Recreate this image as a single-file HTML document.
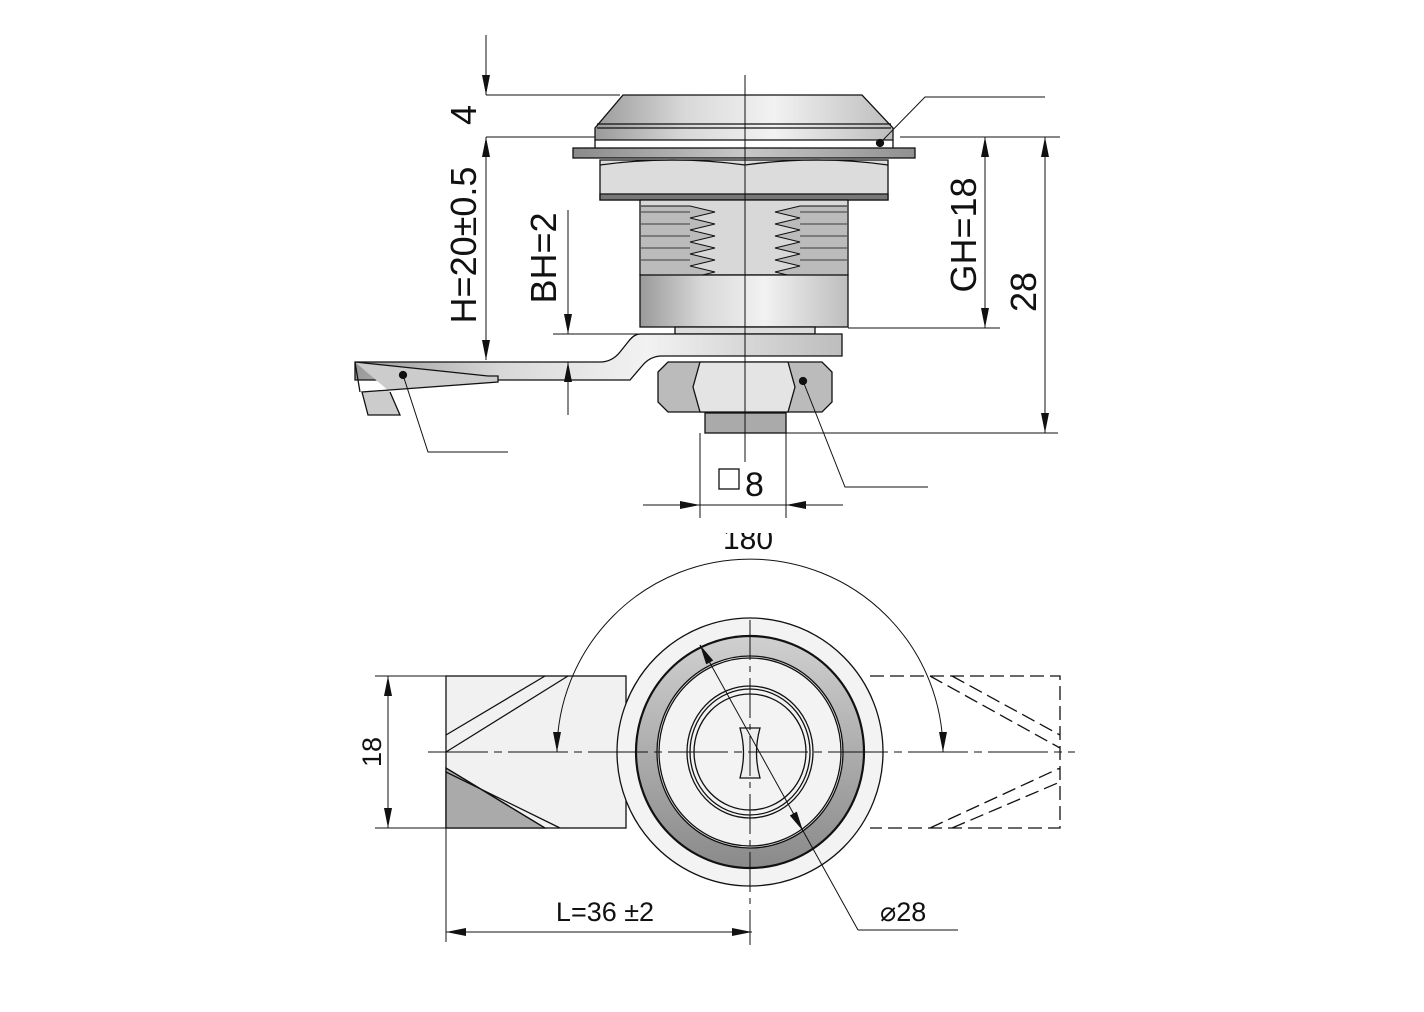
<!DOCTYPE html>
<html><head><meta charset="utf-8"><style>
html,body{margin:0;padding:0;background:#fff}
svg{display:block}
text{font-family:"Liberation Sans",sans-serif;fill:#111}
</style></head><body>
<svg width="1424" height="1012" viewBox="0 0 1424 1012" xmlns="http://www.w3.org/2000/svg">
<defs>
<linearGradient id="g1" x1="0" x2="1" y1="0" y2="0">
<stop offset="0" stop-color="#9a9a9a"/><stop offset="0.3" stop-color="#d8d8d8"/><stop offset="0.6" stop-color="#f2f2f2"/><stop offset="1" stop-color="#bdbdbd"/></linearGradient>
<linearGradient id="g2" x1="0" x2="1"><stop offset="0" stop-color="#8a8a8a"/><stop offset="0.5" stop-color="#c8c8c8"/><stop offset="1" stop-color="#909090"/></linearGradient>
<linearGradient id="g3" x1="0" x2="0" y1="0" y2="1"><stop offset="0" stop-color="#d0d0d0"/><stop offset="1" stop-color="#8a8a8a"/></linearGradient>
<marker id="ar" viewBox="0 0 10 10" refX="10" refY="5" markerWidth="20" markerHeight="8" preserveAspectRatio="none" markerUnits="userSpaceOnUse" orient="auto-start-reverse"><path d="M0,0 L10,5 L0,10 z" fill="#111"/></marker>
</defs>
<g stroke="#111" stroke-width="1.3" fill="none">
<path d="M623,95 L862,95 L893,128 L893,140 L595,140 L595,128 Z" fill="url(#g1)"/>
<line x1="597" y1="124" x2="891" y2="124"/><line x1="597" y1="128" x2="891" y2="128"/>
<rect x="573" y="148" width="342" height="10" fill="url(#g2)"/>
<line x1="595" y1="140" x2="595" y2="148"/><line x1="893" y1="140" x2="893" y2="148"/>
<path d="M600,160 L888,160 L888,200 L600,200 Z" fill="#dcdcdc"/>
<path d="M600,165 Q672,155 745,165 Q818,155 888,165" /><path d="M600,194 Q672,204 745,194 Q818,204 888,194"/>
<path d="M600,194 L888,194 L888,200 L600,200Z" fill="#777"/>
<rect x="640" y="200" width="208" height="75" fill="#d8d8d8"/>
<g stroke-width="1.1">
<path d="M641,206 H690 l25,6 l-25,6 l25,6 l-25,6 l25,6 l-25,6 l25,6 l-25,6 l25,6 l-25,6 l25,6 l-25,6 H641" fill="#bbb"/>
<path d="M847,206 H800 l-25,6 l25,6 l-25,6 l25,6 l-25,6 l25,6 l-25,6 l25,6 l-25,6 l25,6 l-25,6 l25,6 H847" fill="#bbb"/>
<g stroke-width="0.8"><line x1="641" y1="212" x2="690" y2="212"/><line x1="641" y1="224" x2="690" y2="224"/><line x1="641" y1="236" x2="690" y2="236"/><line x1="641" y1="248" x2="690" y2="248"/><line x1="641" y1="260" x2="690" y2="260"/>
<line x1="800" y1="212" x2="847" y2="212"/><line x1="800" y1="224" x2="847" y2="224"/><line x1="800" y1="236" x2="847" y2="236"/><line x1="800" y1="248" x2="847" y2="248"/><line x1="800" y1="260" x2="847" y2="260"/></g>
</g>
<rect x="640" y="275" width="208" height="52" fill="url(#g1)"/>
<rect x="675" y="327" width="140" height="7" fill="#ddd"/>
<path d="M640,334 L842,334 L842,356 L662,356 Q650,356 642,366 L630,380 L355,380 L355,362 L600,362 Q612,362 620,352 L628,342 Q634,334 640,334Z" fill="url(#g1)"/>
<path d="M355,362 L488,376 L498,376 L498,382 L362,392 L368,415 L400,415 L390,392" fill="#ccc"/>
<path d="M355,362 L360,392"/>
<path d="M658,372 L668,362 L822,362 L832,372 L832,402 L822,412 L668,412 L658,402 Z" fill="#bbb"/>
<path d="M700,362 L788,362 L795,387 L788,412 L700,412 L693,387Z" fill="#e4e4e4"/>
<rect x="705" y="413" width="81" height="20" fill="#aaa"/>
<line x1="745" y1="75" x2="745" y2="462" stroke-width="1"/>
<circle cx="880" cy="143" r="3.5" fill="#111"/><circle cx="403" cy="375" r="3.5" fill="#111"/><circle cx="803" cy="381" r="3.5" fill="#111"/>
<g stroke-width="1">
<polyline points="880,143 925,97 1045,97"/>
<polyline points="403,375 428,452 508,452"/>
<polyline points="803,381 845,487 928,487"/>
<line x1="486" y1="35" x2="486" y2="95" marker-end="url(#ar)"/>
<line x1="486" y1="137" x2="486" y2="360" marker-start="url(#ar)" marker-end="url(#ar)"/>
<line x1="486" y1="95" x2="620" y2="95"/><line x1="486" y1="137" x2="595" y2="137"/>
<line x1="568" y1="210" x2="568" y2="334" marker-end="url(#ar)"/>
<line x1="568" y1="415" x2="568" y2="362" marker-end="url(#ar)"/>
<line x1="553" y1="334" x2="640" y2="334"/>
<line x1="900" y1="137" x2="1060" y2="137"/>
<line x1="848" y1="328" x2="1000" y2="328"/>
<line x1="786" y1="433" x2="1058" y2="433"/>
<line x1="985" y1="137" x2="985" y2="328" marker-start="url(#ar)" marker-end="url(#ar)"/>
<line x1="1045" y1="137" x2="1045" y2="433" marker-start="url(#ar)" marker-end="url(#ar)"/>
<line x1="700" y1="433" x2="700" y2="518"/><line x1="786" y1="433" x2="786" y2="518"/>
<line x1="643" y1="505" x2="700" y2="505" marker-end="url(#ar)"/>
<line x1="843" y1="505" x2="786" y2="505" marker-end="url(#ar)"/>
<line x1="700" y1="505" x2="786" y2="505"/>
</g>
<rect x="719" y="469" width="20" height="20" stroke-width="1.3"/>
<rect x="446" y="676" width="180" height="152" fill="#f1f1f1"/>
<path d="M446,735 L545,676 M446,752 L568,676" />
<path d="M446,768 L446,828 L545,828 Z" fill="#aaa"/>
<path d="M446,768 L545,828 M446,772 L560,828" />
<path d="M870,676 H1060 V828 H870 M930,676 L1060,748 M952,676 L1060,735 M930,828 L1060,768 M952,828 L1060,782" stroke-dasharray="14,6"/>
<ellipse cx="750" cy="752" rx="133" ry="134" fill="#f3f3f3"/>
<ellipse cx="750" cy="752" rx="114" ry="116" fill="url(#g3)" stroke-width="2.2"/>
<ellipse cx="750" cy="752" rx="93" ry="96" fill="#f3f3f3"/>
<ellipse cx="750" cy="752" rx="91" ry="94"/>
<ellipse cx="750" cy="752" rx="63" ry="66" fill="#f3f3f3"/>
<ellipse cx="750" cy="752" rx="60" ry="63"/><ellipse cx="750" cy="752" rx="56" ry="58"/>
<path d="M740,728 H760 Q753,753 760,778 H740 Q747,753 740,728Z" fill="#eee"/>
<g stroke-width="1">
<line x1="750" y1="620" x2="750" y2="945" stroke-dasharray="40,6,6,6"/>
<line x1="428" y1="752" x2="1075" y2="752" stroke-dasharray="60,6,8,6"/>
<path d="M557,752 A193,193 0 0 1 943,752" marker-start="url(#ar)" marker-end="url(#ar)"/>
<line x1="700" y1="645" x2="858" y2="930" />
<line x1="710" y1="663" x2="700" y2="645" marker-end="url(#ar)"/>
<line x1="793" y1="813" x2="803" y2="831" marker-end="url(#ar)"/>
<line x1="858" y1="930" x2="958" y2="930"/>
<line x1="375" y1="676" x2="446" y2="676"/><line x1="375" y1="828" x2="446" y2="828"/>
<line x1="388" y1="676" x2="388" y2="828" marker-start="url(#ar)" marker-end="url(#ar)"/>
<line x1="446" y1="828" x2="446" y2="942"/>
<line x1="446" y1="932" x2="752" y2="932" marker-start="url(#ar)" marker-end="url(#ar)"/>
</g>
</g>
<g font-size="36">
<text transform="translate(476,115) rotate(-90)" text-anchor="middle">4</text>
<text transform="translate(476,245) rotate(-90)" text-anchor="middle">H=20±0.5</text>
<text transform="translate(556,258) rotate(-90)" text-anchor="middle">BH=2</text>
<text transform="translate(976,235) rotate(-90)" text-anchor="middle">GH=18</text>
<text transform="translate(1036,292) rotate(-90)" text-anchor="middle">28</text>
<text x="745" y="496" font-size="34">8</text>
<text x="748" y="549" text-anchor="middle" font-size="30">180</text>
</g>
<rect x="700" y="508" width="100" height="25" fill="#fff"/>
<g stroke="#111" stroke-width="1">
<line x1="700" y1="505" x2="700" y2="518"/><line x1="786" y1="505" x2="786" y2="518"/>
</g>
<g font-size="27">
<text transform="translate(381,752) rotate(-90)" text-anchor="middle">18</text>
<text x="605" y="921" text-anchor="middle">L=36 ±2</text>
<text x="880" y="921">⌀28</text>
</g>
</svg>
</body></html>
